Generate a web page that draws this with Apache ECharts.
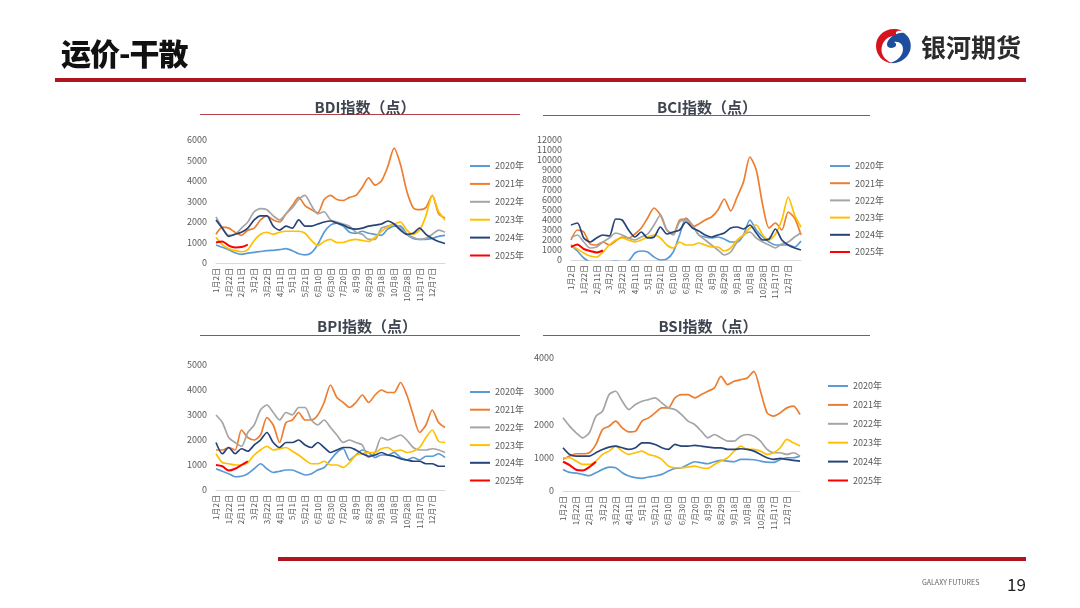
<!DOCTYPE html>
<html><head><meta charset="utf-8">
<script src="https://cdn.jsdelivr.net/npm/echarts@6/dist/echarts.min.js"></script>
<style>
html,body{margin:0;padding:0;background:#fff;width:1080px;height:608px;overflow:hidden;font-family:"Noto Sans CJK SC","Noto Sans",sans-serif;}
#chart{position:absolute;left:0;top:0;width:1080px;height:608px;}
.t{position:absolute;white-space:nowrap;}
</style></head>
<body>
<div id="chart"></div>
<div class="t" style="left:61px;top:30px;font-size:30px;font-weight:900;color:#111;letter-spacing:-1px;">运价-干散</div>
<svg class="t" style="left:874px;top:27px;" width="40" height="38" viewBox="0 0 40 38">
  <path d="M20 2 C9 2 2 10 2 19 C2 28 9 36 18 36 C10 33 6 26 8 19 C10 12 16 8 24 9 C20 6 22 3 28 4 C26 2.5 23 2 20 2 Z" fill="#d7141e"/>
  <path d="M30 6 C36 10 38 17 36 24 C33 32 25 37 16 36 C24 34 29 28 29 22 C29 17 25 14 20 15 C24 17 22 21 17 21 C13 21 12 17 14 14 C17 9 24 5 30 6 Z" fill="#1d4e9e"/>
</svg>
<div class="t" style="left:921px;top:28px;font-size:25px;font-weight:700;color:#2b2b2b;">银河期货</div>
<div class="t" style="left:55px;top:78px;width:971px;height:4px;background:#b0141c;"></div>
<div class="t" style="left:278px;top:557px;width:748px;height:4px;background:#b0141c;"></div>
<div class="t" style="left:922px;top:577px;font-size:7px;color:#666;">GALAXY FUTURES</div>
<div class="t" style="left:1007px;top:571px;font-size:17px;color:#222;">19</div>
<script>
var dates = ["1月2日","1月12日","1月22日","2月1日","2月11日","2月21日","3月2日","3月12日","3月22日","4月1日","4月11日","4月21日","5月1日","5月11日","5月21日","5月31日","6月10日","6月20日","6月30日","7月10日","7月20日","7月30日","8月9日","8月19日","8月29日","9月8日","9月18日","9月28日","10月8日","10月18日","10月28日","11月7日","11月17日","11月27日","12月7日","12月17日","12月27日"];
var years = ["2020年","2021年","2022年","2023年","2024年","2025年"];
var yearColors = ["#5b9bd5","#ed7d31","#a5a5a5","#ffc000","#264478","#ff0000"];

var bdi2020 = [880,770,650,500,420,480,520,560,600,620,650,700,600,450,400,500,900,1500,1850,1950,1800,1500,1450,1550,1450,1400,1350,1650,1800,1800,1400,1200,1150,1150,1200,1300,1350];
var bdi2021 = [1400,1750,1700,1500,1350,1600,1700,2100,2300,2100,2000,2400,2800,3200,2800,2600,2450,3100,3300,3100,3050,3200,3300,3700,4150,3800,4000,4700,5600,4800,3500,2700,2600,2700,3300,2400,2200];
var bdi2022 = [2250,1700,1350,1400,1700,2000,2500,2650,2600,2300,2100,2400,2700,3100,3300,2800,2400,2500,2100,2000,1900,1800,1500,1400,1150,1150,1700,1800,1900,1700,1400,1250,1150,1200,1400,1600,1500];
var bdi2023 = [1250,900,700,600,550,650,1100,1400,1500,1400,1500,1550,1550,1550,1450,1100,850,1050,1150,1000,1000,1100,1150,1100,1050,1250,1550,1750,1900,2000,1600,1400,1600,2300,3300,2500,2100];
var bdi2024 = [2100,1700,1300,1400,1500,1700,2100,2300,2300,1800,1600,1800,1700,2100,1800,1800,1900,2000,2050,1950,1850,1700,1650,1700,1800,1850,1900,2050,1900,1600,1400,1450,1700,1400,1200,1050,950];
var bdi2025 = [1000,1050,850,760,780,900];

var bci2020 = [1500,900,200,-200,-300,-300,-200,-100,-200,-100,700,900,800,300,0,100,800,2500,4200,3500,2500,2300,2200,2300,2100,1800,1800,2500,4000,3000,2300,1800,1500,1500,1500,1300,1900];
var bci2021 = [2000,3000,2800,1600,1500,1800,1500,1900,2300,2200,2600,3200,4200,5200,4500,3000,2600,4000,4100,3300,3600,4000,4300,5000,6100,4900,6300,7800,10300,9000,5500,3200,3700,3000,4800,4200,2500];
var bci2022 = [2200,2500,1800,1200,1300,1800,2200,2700,2500,2200,2000,2300,2600,3500,4500,3000,2500,3800,4000,3500,2500,2000,1500,1000,500,800,1800,2500,2800,2200,1800,1500,1200,1600,1800,2300,2700];
var bci2023 = [1500,1100,700,400,300,800,1500,2000,2200,2000,1800,2000,2300,2500,2200,1500,1200,1800,1500,1500,1700,1500,1300,1300,900,1200,2000,2500,3200,3500,2500,2000,2600,4000,6300,4500,3300];
var bci2024 = [3500,3700,2200,1800,2200,2500,2400,4100,4000,3000,2300,2800,2200,2300,3300,2600,2800,3000,3800,3200,2900,2500,2300,2500,2700,3200,3300,3100,3500,2700,2000,2100,3100,2000,1500,1200,1000];
var bci2025 = [1300,1550,1100,900,750,950];

var bpi2020 = [850,750,650,530,550,650,850,1050,850,700,750,800,800,700,600,650,800,900,1200,1500,1650,1200,1400,1600,1500,1300,1400,1400,1500,1300,1200,1300,1200,1350,1350,1450,1300];
var bpi2021 = [1600,1600,1700,1600,2400,2100,2000,2200,2900,2600,1900,2700,2800,3100,2800,2800,3000,3500,4200,3700,3500,3300,3500,3800,3500,3800,4000,3900,3900,4300,3800,3000,2300,2600,3200,2700,2500];
var bpi2022 = [3000,2700,2100,1900,1750,2300,2600,3200,3400,3100,2800,3100,3000,3300,3300,2800,2600,2800,2500,2200,1900,2000,1900,1800,1300,1500,2100,2000,2100,2200,2000,1700,1600,1600,1650,1600,1500];
var bpi2023 = [1450,1100,1050,1000,1000,1100,1400,1600,1750,1600,1650,1700,1550,1400,1200,1050,1050,1150,1000,1000,900,1100,1400,1450,1500,1500,1650,1700,1550,1600,1500,1550,1700,2100,2400,1950,1900];
var bpi2024 = [1900,1450,1700,1450,1650,1550,1800,2000,2300,1900,1700,1900,1900,2000,1800,1700,1900,1700,1500,1600,1700,1700,1600,1450,1350,1400,1500,1400,1350,1250,1200,1150,1150,1050,1050,950,950];
var bpi2025 = [1000,950,780,850,1000,1150];

var bsi2020 = [650,560,540,500,460,550,650,720,700,550,450,400,380,420,450,500,600,680,700,800,880,850,820,880,920,900,880,950,950,940,900,870,860,950,1000,1000,1050];
var bsi2021 = [950,1050,1120,1120,1150,1400,1850,1950,2100,1900,1780,1800,2100,2200,2350,2500,2500,2800,2900,2900,2800,2900,3000,3100,3450,3200,3300,3350,3400,3600,3000,2350,2250,2350,2500,2550,2300];
var bsi2022 = [2200,1950,1750,1600,1750,2250,2400,2900,3000,2700,2450,2600,2700,2750,2800,2650,2500,2450,2300,2100,2000,1800,1600,1700,1600,1500,1500,1650,1700,1650,1500,1250,1150,1150,1100,1150,1050];
var bsi2023 = [1000,1000,900,800,800,900,1100,1200,1350,1200,1100,1150,1200,1100,1050,950,750,700,700,720,750,700,680,800,900,1000,1200,1350,1250,1250,1200,1100,1150,1300,1550,1450,1350];
var bsi2024 = [1300,1100,1050,1050,1050,1150,1250,1320,1350,1300,1250,1300,1450,1450,1400,1300,1250,1400,1350,1350,1370,1350,1320,1300,1300,1250,1250,1270,1250,1200,1100,1000,950,980,950,920,900];
var bsi2025 = [880,780,640,620,720,880];

var charts = [
  {title:"BDI指数（点）", tx:360, ty:102, ul:[200,520,114.5], grid:{left:216,top:140,width:229,height:123}, max:6000, legend:{left:465,top:155,gap:17.9},
   data:[bdi2020,bdi2021,bdi2022,bdi2023,bdi2024,bdi2025]},
  {title:"BCI指数（点）", tx:702, ty:102, ul:[543,870,115.5], grid:{left:571,top:140,width:230,height:120}, max:12000, legend:{left:825,top:155,gap:17.2},
   data:[bci2020,bci2021,bci2022,bci2023,bci2024,bci2025]},
  {title:"BPI指数（点）", tx:362, ty:321, ul:[200,520,335.5], grid:{left:216,top:365,width:229,height:125}, max:5000, legend:{left:465,top:381,gap:17.7},
   data:[bpi2020,bpi2021,bpi2022,bpi2023,bpi2024,bpi2025]},
  {title:"BSI指数（点）", tx:703, ty:321, ul:[543,870,335.5], grid:{left:563,top:358,width:237,height:133}, max:4000, legend:{left:823,top:375,gap:18.9},
   data:[bsi2020,bsi2021,bsi2022,bsi2023,bsi2024,bsi2025]}
];

var font = '"Noto Sans CJK SC","Noto Sans",sans-serif';
var option = {animation:false, title:[], grid:[], xAxis:[], yAxis:[], legend:[], series:[], graphic:[]};
charts.forEach(function(c, ci){
  option.title.push({text:c.title, left:c.tx, top:c.ty, textAlign:'center', textVerticalAlign:'middle',
    textStyle:{fontSize:15, fontWeight:'bold', color:'#3f4550', fontFamily:font}});
  option.graphic.push({type:'line', shape:{x1:c.ul[0], y1:c.ul[2], x2:c.ul[1], y2:c.ul[2]}, style:{stroke:'#b8424a', lineWidth:1}});
  option.grid.push(c.grid);
  option.xAxis.push({type:'category', gridIndex:ci, data:dates, boundaryGap:false,
    axisLine:{lineStyle:{color:'#d9d9d9'}}, axisTick:{show:false},
    axisLabel:{rotate:90, fontSize:8, color:'#595959', fontFamily:font, margin:5,
      interval:function(i){return i%2===0 && i<36;}}});
  option.yAxis.push({type:'value', gridIndex:ci, min:0, max:c.max, interval:1000,
    splitLine:{show:false}, axisLine:{show:false}, axisTick:{show:false},
    axisLabel:{fontSize:9, color:'#595959', fontFamily:font, margin:9, formatter:function(v){return String(v);}}});
  option.legend.push({orient:'vertical', left:c.legend.left, top:c.legend.top, data:years,
    icon:'rect', itemWidth:20, itemHeight:2, itemGap:c.legend.gap-12,
    textStyle:{fontSize:9, color:'#595959', fontFamily:font, lineHeight:12}});
  c.data.forEach(function(arr, si){
    option.series.push({type:'line', name:years[si], xAxisIndex:ci, yAxisIndex:ci, data:arr,
      showSymbol:false, symbol:'none', smooth:0.25, clip:true,
      lineStyle:{width:si===5?2:1.7, color:yearColors[si]}, itemStyle:{color:yearColors[si]}});
  });
});
var ch = echarts.init(document.getElementById('chart'), null, {renderer:'canvas'});
ch.setOption(option);
</script>
</body></html>
